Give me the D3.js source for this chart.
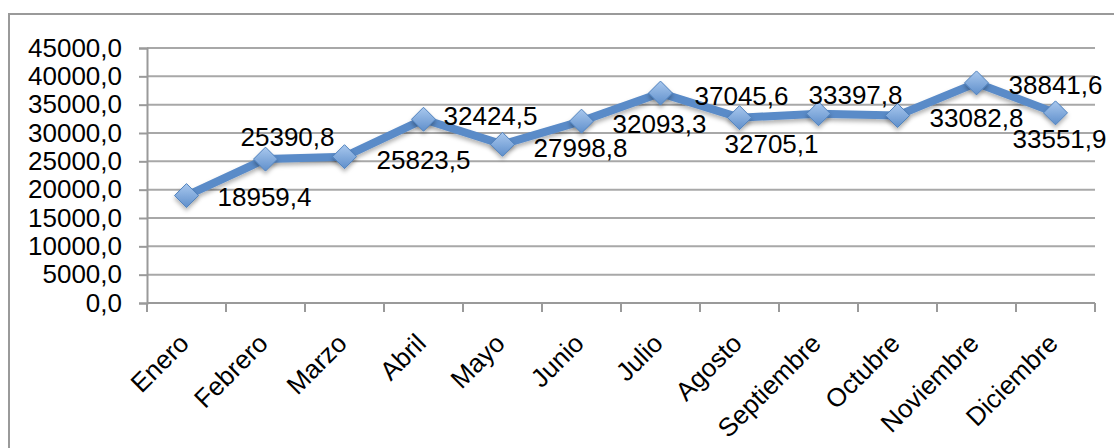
<!DOCTYPE html>
<html>
<head>
<meta charset="utf-8">
<script src="https://cdn.jsdelivr.net/npm/d3@7"></script>
<style>
  body { margin: 0; background: #fff; }
  text { font-family: "Liberation Sans", Arial, sans-serif; fill: #000; }
</style>
</head>
<body>
<script>
var width = 1114, height = 448;

// data
var months = ["Enero", "Febrero", "Marzo", "Abril", "Mayo", "Junio", "Julio",
              "Agosto", "Septiembre", "Octubre", "Noviembre", "Diciembre"];
var values = [18959.4, 25390.8, 25823.5, 32424.5, 27998.8, 32093.3, 37045.6,
              32705.1, 33397.8, 33082.8, 38841.6, 33551.9];
var yTicks = [0, 5000, 10000, 15000, 20000, 25000, 30000, 35000, 40000, 45000];

// where each data label sits relative to its point (left edge, vertical middle)
var labelOffsets = [[31, 1], [-25, -22], [32, 3], [20, -4], [31, 3], [31, 3],
                    [34, 3], [-15, 26], [-10, -19], [32, 2], [32, 2], [-43, 26]];

var svg = d3.select("body").append("svg")
    .attr("width", width)
    .attr("height", height);

// spanish style number: 45000,0
var fmt = d3.formatLocale({decimal: ",", thousands: "", grouping: [3], currency: ["", ""]}).format(".1f");

var defs = svg.append("defs");
var grad = defs.append("linearGradient").attr("id", "dia")
    .attr("x1", 0).attr("y1", 0).attr("x2", 0).attr("y2", 1);
grad.append("stop").attr("offset", "0%").attr("stop-color", "#a9c8ee");
grad.append("stop").attr("offset", "100%").attr("stop-color", "#5f8fcb");
var shadow = defs.append("filter").attr("id", "shadow")
    .attr("x", "-20%").attr("y", "-20%").attr("width", "140%").attr("height", "160%");
shadow.append("feDropShadow").attr("dx", 0).attr("dy", 3)
    .attr("stdDeviation", 2).attr("flood-color", "#000").attr("flood-opacity", 0.3);

// outer chart border
svg.append("rect")
    .attr("x", 9).attr("y", 14)
    .attr("width", 1120).attr("height", 460)
    .attr("fill", "none").attr("stroke", "#9a9a9a").attr("stroke-width", 2);

var x = d3.scaleBand().domain(months).range([147, 1095]);
var y = d3.scaleLinear().domain([0, 45000]).range([303, 48]);

// gridlines
svg.append("g").selectAll("line")
    .data(yTicks.slice(1))
    .enter().append("line")
    .attr("x1", 147).attr("x2", 1095)
    .attr("y1", function(d) { return y(d); })
    .attr("y2", function(d) { return y(d); })
    .attr("stroke", "#a8a8a8").attr("stroke-width", 2);

// y axis
var yAxis = svg.append("g")
    .attr("transform", "translate(147,0)")
    .call(d3.axisLeft(y).tickValues(yTicks).tickFormat(fmt).tickSize(8).tickPadding(17));
yAxis.selectAll("line, path").attr("stroke", "#9a9a9a").attr("stroke-width", 2);
yAxis.selectAll("text").attr("font-size", 26).attr("fill", "#000")
    .style("font-family", "'Liberation Sans', Arial, sans-serif");

// x axis: ticks between categories
var xAxis = svg.append("g").attr("transform", "translate(0,303)");
xAxis.append("line").attr("x1", 147).attr("x2", 1095)
    .attr("stroke", "#9a9a9a").attr("stroke-width", 2);
xAxis.selectAll(".tk")
    .data(d3.range(months.length + 1))
    .enter().append("line")
    .attr("x1", function(i) { return 147 + i * x.bandwidth(); })
    .attr("x2", function(i) { return 147 + i * x.bandwidth(); })
    .attr("y1", 0).attr("y2", 9)
    .attr("stroke", "#9a9a9a").attr("stroke-width", 2);
xAxis.selectAll("text")
    .data(months)
    .enter().append("text")
    .attr("transform", function(d) {
        return "translate(" + (x(d) + x.bandwidth() / 2 + 4) + ",42) rotate(-45)";
    })
    .attr("text-anchor", "end")
    .attr("font-size", 26)
    .text(function(d) { return d; });

var cx = function(i) { return x(months[i]) + x.bandwidth() / 2; };

// line
var line = d3.line()
    .x(function(d, i) { return cx(i); })
    .y(function(d) { return y(d); });

svg.append("path")
    .datum(values)
    .attr("d", line)
    .attr("fill", "none")
    .attr("stroke", "#5a8bc8")
    .attr("stroke-width", 8)
    .attr("stroke-linejoin", "round")
    .attr("filter", "url(#shadow)");

// diamond markers
svg.append("g").selectAll("path")
    .data(values)
    .enter().append("path")
    .attr("d", "M0,-12L12,0L0,12L-12,0Z")
    .attr("transform", function(d, i) { return "translate(" + cx(i) + "," + y(d) + ")"; })
    .attr("fill", "url(#dia)")
    .attr("stroke", "#4f81bd")
    .attr("stroke-width", 1)
    .attr("filter", "url(#shadow)");

// data labels
svg.append("g").selectAll("text")
    .data(values)
    .enter().append("text")
    .attr("x", function(d, i) { return cx(i) + labelOffsets[i][0]; })
    .attr("y", function(d, i) { return y(d) + labelOffsets[i][1]; })
    .attr("dy", "0.36em")
    .attr("font-size", 26)
    .text(function(d) { return fmt(d); });
</script>
</body>
</html>
